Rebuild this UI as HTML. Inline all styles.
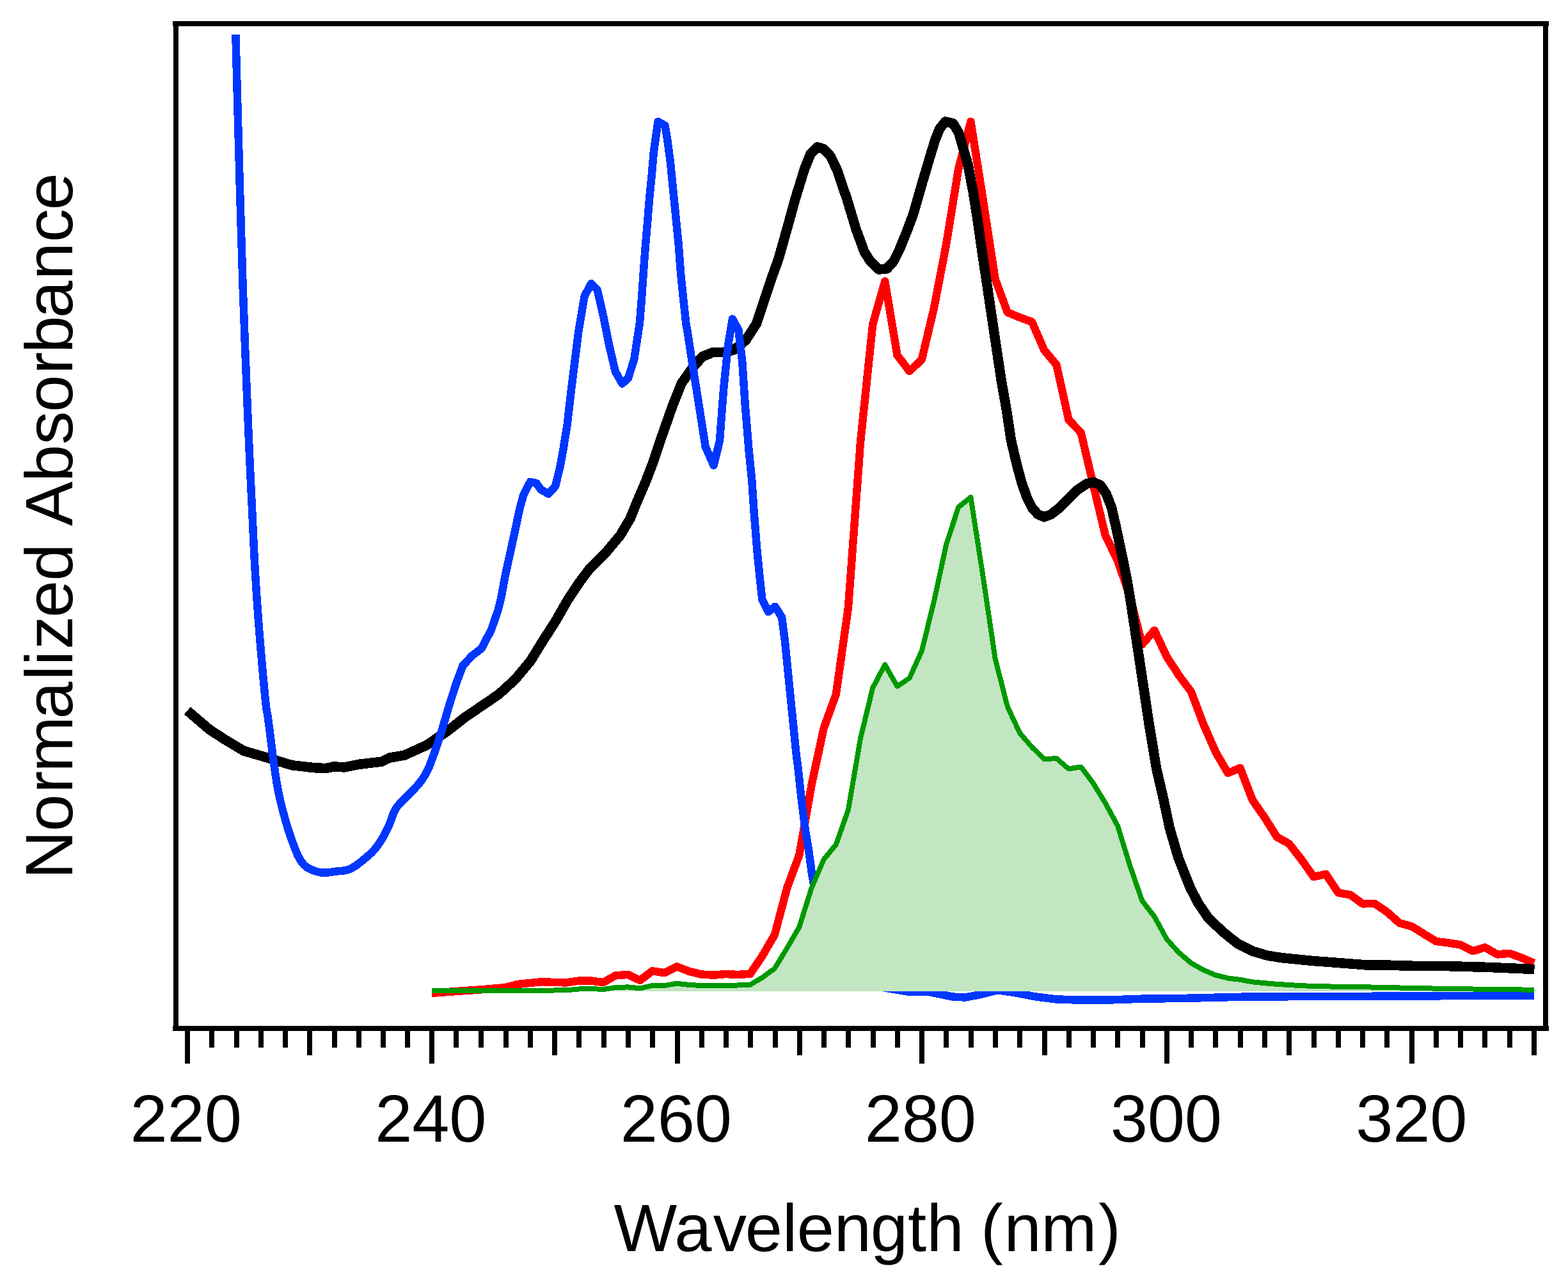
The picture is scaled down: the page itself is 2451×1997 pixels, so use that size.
<!DOCTYPE html>
<html lang="en">
<head>
<meta charset="utf-8">
<title>Normalized Absorbance vs Wavelength</title>
<style>
html,body{margin:0;padding:0;background:#fff}
svg{display:block}
text{font-family:"Liberation Sans",Arial,Helvetica,sans-serif;font-size:104.7px;fill:#000}
.ln{fill:none;stroke-linejoin:round;stroke-linecap:butt}
</style>
</head>
<body>
<svg width="2451" height="1997" viewBox="0 0 2451 1997" shape-rendering="crispEdges">
<rect x="0" y="0" width="2451" height="1997" fill="#ffffff"/>
<g class="ln">
<polyline stroke="#ff0000" stroke-width="12.5" points="675.0,1551.8 694.1,1550.4 713.3,1549.0 732.4,1547.7 751.6,1546.4 770.7,1544.7 789.9,1543.1 809.0,1538.0 828.2,1536.0 847.3,1534.2 866.4,1535.0 885.6,1535.4 904.7,1532.6 923.9,1532.6 943.0,1535.1 962.2,1524.4 981.3,1522.9 1000.5,1531.9 1019.6,1517.3 1038.7,1520.1 1057.9,1510.3 1077.0,1517.8 1096.2,1522.5 1115.3,1523.7 1134.5,1522.0 1153.6,1523.0 1172.8,1521.7 1191.9,1493.3 1211.0,1460.4 1230.2,1387.7 1249.3,1336.1 1268.5,1227.0 1287.6,1138.0 1306.8,1085.0 1325.9,950.0 1345.1,690.0 1364.2,507.0 1383.3,439.5 1402.5,555.0 1421.6,580.0 1440.8,562.0 1459.9,481.5 1479.1,382.0 1498.2,264.0 1517.4,190.0 1536.5,311.0 1555.6,436.0 1574.8,488.0 1593.9,496.0 1613.1,503.0 1632.2,547.0 1651.4,570.0 1670.5,656.0 1689.7,676.0 1708.8,757.0 1727.9,837.0 1747.1,876.0 1766.2,932.0 1785.4,1007.0 1804.5,985.0 1823.7,1026.0 1842.8,1055.3 1862.0,1081.1 1881.1,1131.6 1900.2,1175.0 1919.4,1208.0 1938.5,1200.0 1957.7,1250.0 1976.8,1277.4 1996.0,1307.9 2015.1,1318.5 2034.3,1343.1 2053.4,1370.1 2072.5,1366.0 2091.7,1395.0 2110.8,1398.3 2130.0,1412.3 2149.1,1412.1 2168.3,1425.2 2187.4,1442.3 2206.6,1447.5 2225.7,1459.3 2244.8,1471.0 2264.0,1473.3 2283.1,1476.4 2302.3,1486.2 2321.4,1480.4 2340.6,1491.4 2359.7,1489.8 2378.9,1496.8 2398.0,1505.0"/>
<polyline stroke="#000000" stroke-width="15.5" points="292.9,1110.5 326.9,1139.6 350.4,1154.9 380.9,1173.2 420.8,1184.9 456.0,1195.7 491.2,1199.7 509.9,1200.6 521.7,1197.8 538.1,1199.0 561.6,1194.3 596.8,1190.1 608.5,1184.2 632.0,1180.2 667.1,1164.3 702.3,1140.3 725.8,1121.6 749.3,1105.6 779.8,1084.8 805.6,1061.3 829.0,1033.2 847.8,1002.7 868.9,969.8 887.7,937.0 906.5,908.8 920.6,890.0 946.4,864.2 969.8,836.1 985.1,810.3 995.6,784.5 1009.7,751.6 1021.4,721.1 1028.5,700.0 1034.6,681.6 1051.1,634.6 1065.1,599.4 1081.6,576.0 1098.0,557.2 1114.4,550.6 1133.2,550.2 1147.3,546.6 1166.0,531.4 1182.5,505.6 1194.2,470.4 1205.9,435.2 1216.8,405.0 1230.1,358.1 1243.0,311.2 1257.5,264.2 1267.1,240.3 1277.8,229.8 1287.6,232.8 1298.3,244.3 1307.9,264.2 1324.0,311.2 1338.1,358.1 1351.0,393.3 1361.0,409.0 1373.6,421.0 1386.5,419.8 1397.0,408.0 1405.6,391.0 1417.3,362.0 1427.6,334.6 1441.0,287.7 1455.0,240.8 1462.0,218.0 1468.9,200.9 1477.6,190.1 1489.8,192.9 1498.5,207.2 1506.5,235.0 1512.9,256.6 1521.0,299.3 1527.8,341.9 1533.8,384.5 1540.2,427.2 1546.6,469.8 1551.8,505.0 1558.1,546.9 1565.1,593.9 1573.4,640.8 1580.4,687.7 1588.6,722.9 1596.8,753.4 1605.0,776.9 1613.2,793.3 1622.6,803.9 1632.0,807.8 1642.6,803.9 1656.6,793.3 1670.7,779.2 1684.8,765.1 1698.9,755.8 1709.4,753.4 1720.0,758.1 1729.4,772.2 1737.6,793.3 1744.6,823.8 1750.5,852.0 1756.4,880.1 1761.1,903.0 1768.0,943.9 1782.1,1037.7 1796.2,1131.6 1807.9,1202.0 1818.3,1246.9 1828.3,1293.9 1842.0,1340.8 1860.7,1387.7 1872.9,1411.2 1888.9,1434.6 1911.2,1455.8 1934.6,1474.5 1958.1,1486.3 1981.6,1493.3 2005.0,1496.8 2052.0,1501.5 2098.9,1505.0 2134.1,1507.8 2169.3,1508.1 2200.0,1509.2 2264.0,1509.7 2326.0,1511.4 2385.0,1513.9 2398.5,1514.5"/>
<polyline stroke="#0037ff" stroke-width="12.5" points="368.4,54.0 370.4,130.0 374.9,293.3 379.6,447.0 383.0,540.0 386.4,626.8 389.5,700.0 391.1,734.7 392.5,764.4 394.0,794.0 395.4,825.3 396.9,856.7 398.5,888.0 400.5,919.9 402.7,951.7 404.9,982.0 406.9,1006.4 408.9,1029.7 410.9,1052.0 412.8,1072.2 414.6,1091.7 416.4,1107.0 417.1,1111.6 417.9,1115.2 418.7,1120.0 421.3,1140.0 424.6,1166.3 427.8,1191.0 430.1,1207.4 432.5,1222.7 435.3,1238.0 438.9,1254.0 442.9,1269.9 447.1,1285.0 450.9,1297.4 454.8,1309.1 458.8,1320.0 462.0,1328.4 465.3,1336.2 468.9,1343.0 472.0,1347.6 475.3,1351.5 479.4,1355.0 486.4,1358.8 494.6,1361.9 502.9,1363.7 511.0,1363.7 519.1,1362.5 526.4,1361.4 530.6,1361.1 534.4,1360.9 538.1,1360.4 541.9,1359.6 545.7,1358.5 549.8,1356.7 557.5,1351.8 565.9,1345.3 573.3,1339.1 577.6,1335.4 581.4,1331.9 585.0,1328.0 589.1,1323.0 593.0,1317.5 596.8,1311.6 600.9,1304.3 604.8,1296.5 608.5,1288.6 611.6,1280.5 614.4,1272.2 617.9,1264.7 622.1,1258.9 626.8,1253.8 632.0,1248.3 639.7,1240.5 648.1,1232.2 655.4,1224.1 659.8,1218.2 663.6,1212.4 667.1,1206.0 671.3,1196.9 675.1,1187.0 678.9,1176.7 682.9,1165.3 686.8,1153.5 690.6,1141.5 694.5,1128.3 698.4,1114.8 702.3,1101.6 707.1,1086.7 711.9,1072.0 714.1,1065.3 723.5,1040.2 737.5,1025.0 752.8,1013.2 768.0,983.9 778.6,953.4 783.3,934.6 789.2,901.8 798.5,859.5 805.6,826.7 812.6,793.9 818.5,772.7 828.8,753.0 838.4,755.0 845.5,765.0 857.4,771.8 868.0,760.0 875.5,729.5 880.8,700.0 886.8,662.8 892.7,611.2 898.6,564.2 904.4,517.3 910.3,482.1 913.8,462.2 924.2,443.2 933.7,452.8 943.1,493.9 952.5,540.8 961.9,580.7 972.5,599.4 981.8,591.2 991.2,561.9 999.9,505.0 1003.2,463.7 1005.6,428.5 1009.1,381.6 1012.2,346.4 1015.0,311.2 1018.5,276.0 1022.0,236.0 1028.6,189.9 1039.6,196.2 1043.1,217.3 1047.8,252.5 1051.3,287.7 1056.0,334.6 1060.7,381.6 1064.2,428.5 1067.8,463.7 1072.5,507.0 1074.5,517.3 1081.6,564.2 1091.0,622.9 1102.7,698.0 1115.6,727.3 1125.0,688.6 1130.8,611.2 1137.9,540.8 1144.9,498.5 1154.3,515.0 1160.2,564.2 1164.9,634.6 1170.7,705.0 1175.4,752.0 1178.6,800.0 1183.3,858.7 1188.0,905.6 1191.5,937.3 1200.9,956.0 1211.5,947.8 1222.0,964.2 1226.7,999.4 1231.4,1046.4 1236.1,1093.3 1240.8,1140.2 1244.3,1175.4 1247.8,1203.0 1252.5,1246.9 1258.4,1293.9 1264.2,1329.1 1268.9,1364.2 1288.0,1470.0 1307.0,1510.0 1340.0,1532.0 1378.0,1542.7 1418.9,1549.5 1452.7,1550.0 1489.3,1557.6 1509.0,1558.5 1531.6,1554.2 1559.7,1547.2 1587.9,1551.4 1616.0,1557.0 1649.8,1561.3 1686.4,1562.7 1728.6,1562.7 1785.0,1560.7 1850.0,1559.9 1951.0,1557.5 2185.0,1556.6 2398.0,1555.5"/>
</g>
<polygon fill="#c1e6c1" points="675.0,1549.0 675.0,1548.1 694.1,1548.1 713.3,1548.0 732.4,1548.0 751.6,1547.9 770.7,1547.8 789.9,1547.8 809.0,1547.7 828.2,1547.6 847.3,1547.5 866.4,1547.5 885.6,1547.3 904.7,1545.5 923.9,1545.0 943.0,1546.0 962.2,1543.1 981.3,1542.4 1000.5,1544.3 1019.6,1540.1 1038.7,1540.1 1057.9,1536.8 1077.0,1538.9 1096.2,1540.1 1115.3,1540.0 1134.5,1540.0 1153.6,1539.5 1172.8,1538.6 1191.9,1527.3 1211.0,1513.2 1230.2,1481.6 1249.3,1448.7 1268.5,1387.7 1287.6,1343.1 1306.8,1319.7 1325.9,1265.7 1345.1,1153.4 1364.2,1074.8 1383.3,1038.6 1402.5,1072.5 1421.6,1059.6 1440.8,1017.3 1459.9,940.0 1479.1,851.0 1498.2,792.5 1517.4,777.0 1536.5,900.0 1555.6,1029.0 1574.8,1104.1 1593.9,1145.2 1613.1,1167.5 1632.2,1186.2 1651.4,1185.1 1670.5,1201.5 1689.7,1198.4 1708.8,1223.8 1727.9,1255.0 1747.1,1290.5 1766.2,1352.5 1785.4,1407.7 1804.5,1432.3 1823.7,1467.5 1842.8,1488.6 1862.0,1505.0 1881.1,1515.6 1900.2,1523.8 1919.4,1528.5 1938.5,1530.8 1957.7,1534.4 1976.8,1536.2 1996.0,1537.9 2015.1,1539.0 2034.3,1540.2 2053.4,1541.0 2072.5,1541.4 2091.7,1541.7 2110.8,1542.0 2130.0,1542.3 2149.1,1542.6 2168.3,1543.0 2187.4,1543.5 2206.6,1544.0 2225.7,1544.3 2244.8,1544.6 2264.0,1544.9 2283.1,1545.2 2302.3,1545.5 2321.4,1545.8 2340.6,1546.0 2359.7,1546.3 2378.9,1546.5 2398.0,1546.8 2402.0,1546.8 2402.0,1549.0"/>
<polyline class="ln" stroke="#009900" stroke-width="8" points="675.0,1548.1 694.1,1548.1 713.3,1548.0 732.4,1548.0 751.6,1547.9 770.7,1547.8 789.9,1547.8 809.0,1547.7 828.2,1547.6 847.3,1547.5 866.4,1547.5 885.6,1547.3 904.7,1545.5 923.9,1545.0 943.0,1546.0 962.2,1543.1 981.3,1542.4 1000.5,1544.3 1019.6,1540.1 1038.7,1540.1 1057.9,1536.8 1077.0,1538.9 1096.2,1540.1 1115.3,1540.0 1134.5,1540.0 1153.6,1539.5 1172.8,1538.6 1191.9,1527.3 1211.0,1513.2 1230.2,1481.6 1249.3,1448.7 1268.5,1387.7 1287.6,1343.1 1306.8,1319.7 1325.9,1265.7 1345.1,1153.4 1364.2,1074.8 1383.3,1038.6 1402.5,1072.5 1421.6,1059.6 1440.8,1017.3 1459.9,940.0 1479.1,851.0 1498.2,792.5 1517.4,777.0 1536.5,900.0 1555.6,1029.0 1574.8,1104.1 1593.9,1145.2 1613.1,1167.5 1632.2,1186.2 1651.4,1185.1 1670.5,1201.5 1689.7,1198.4 1708.8,1223.8 1727.9,1255.0 1747.1,1290.5 1766.2,1352.5 1785.4,1407.7 1804.5,1432.3 1823.7,1467.5 1842.8,1488.6 1862.0,1505.0 1881.1,1515.6 1900.2,1523.8 1919.4,1528.5 1938.5,1530.8 1957.7,1534.4 1976.8,1536.2 1996.0,1537.9 2015.1,1539.0 2034.3,1540.2 2053.4,1541.0 2072.5,1541.4 2091.7,1541.7 2110.8,1542.0 2130.0,1542.3 2149.1,1542.6 2168.3,1543.0 2187.4,1543.5 2206.6,1544.0 2225.7,1544.3 2244.8,1544.6 2264.0,1544.9 2283.1,1545.2 2302.3,1545.5 2321.4,1545.8 2340.6,1546.0 2359.7,1546.3 2378.9,1546.5 2398.0,1546.8"/>
<g fill="#000">
<rect x="270" y="33" width="2151" height="8"/>
<rect x="270" y="1603" width="2151" height="8"/>
<rect x="271" y="33" width="8" height="1578"/>
<rect x="2412" y="33" width="8" height="1578"/>
<rect x="289" y="1607" width="8" height="55"/>
<rect x="327" y="1607" width="8" height="30"/>
<rect x="366" y="1607" width="8" height="30"/>
<rect x="404" y="1607" width="8" height="30"/>
<rect x="442" y="1607" width="8" height="30"/>
<rect x="480" y="1607" width="8" height="42"/>
<rect x="519" y="1607" width="8" height="30"/>
<rect x="557" y="1607" width="8" height="30"/>
<rect x="595" y="1607" width="8" height="30"/>
<rect x="633" y="1607" width="8" height="30"/>
<rect x="671" y="1607" width="8" height="55"/>
<rect x="709" y="1607" width="8" height="30"/>
<rect x="748" y="1607" width="8" height="30"/>
<rect x="787" y="1607" width="8" height="30"/>
<rect x="825" y="1607" width="8" height="30"/>
<rect x="863" y="1607" width="8" height="42"/>
<rect x="901" y="1607" width="8" height="30"/>
<rect x="940" y="1607" width="8" height="30"/>
<rect x="978" y="1607" width="8" height="30"/>
<rect x="1016" y="1607" width="8" height="30"/>
<rect x="1055" y="1607" width="8" height="55"/>
<rect x="1093" y="1607" width="8" height="30"/>
<rect x="1131" y="1607" width="8" height="30"/>
<rect x="1169" y="1607" width="8" height="30"/>
<rect x="1208" y="1607" width="8" height="30"/>
<rect x="1246" y="1607" width="8" height="42"/>
<rect x="1284" y="1607" width="8" height="30"/>
<rect x="1322" y="1607" width="8" height="30"/>
<rect x="1361" y="1607" width="8" height="30"/>
<rect x="1399" y="1607" width="8" height="30"/>
<rect x="1437" y="1607" width="8" height="55"/>
<rect x="1475" y="1607" width="8" height="30"/>
<rect x="1514" y="1607" width="8" height="30"/>
<rect x="1552" y="1607" width="8" height="30"/>
<rect x="1590" y="1607" width="8" height="30"/>
<rect x="1629" y="1607" width="8" height="42"/>
<rect x="1667" y="1607" width="8" height="30"/>
<rect x="1705" y="1607" width="8" height="30"/>
<rect x="1743" y="1607" width="8" height="30"/>
<rect x="1782" y="1607" width="8" height="30"/>
<rect x="1820" y="1607" width="8" height="55"/>
<rect x="1858" y="1607" width="8" height="30"/>
<rect x="1896" y="1607" width="8" height="30"/>
<rect x="1935" y="1607" width="8" height="30"/>
<rect x="1973" y="1607" width="8" height="30"/>
<rect x="2011" y="1607" width="8" height="42"/>
<rect x="2050" y="1607" width="8" height="30"/>
<rect x="2088" y="1607" width="8" height="30"/>
<rect x="2126" y="1607" width="8" height="30"/>
<rect x="2164" y="1607" width="8" height="30"/>
<rect x="2203" y="1607" width="8" height="55"/>
<rect x="2241" y="1607" width="8" height="30"/>
<rect x="2279" y="1607" width="8" height="30"/>
<rect x="2317" y="1607" width="8" height="30"/>
<rect x="2356" y="1607" width="8" height="30"/>
<rect x="2394" y="1607" width="8" height="42"/>
</g>
<g text-rendering="geometricPrecision">
<text x="203.6" y="1784.2" font-size="105.6" letter-spacing="-0.2">220</text>
<text x="586.3" y="1784.2" font-size="105.6" letter-spacing="-0.2">240</text>
<text x="969.7" y="1784.2" font-size="105.6" letter-spacing="-0.2">260</text>
<text x="1351.8" y="1784.2" font-size="105.6" letter-spacing="-0.2">280</text>
<text x="1735.8" y="1784.2" font-size="105.6" letter-spacing="-0.2">300</text>
<text x="2119.2" y="1784.2" font-size="105.6" letter-spacing="-0.2">320</text>
<text x="959.4 1054.2 1114.8 1164.7 1223.0 1245.7 1303.7 1360.8 1418.9 1448.4 1506.2 1532.9 1569.4 1627.3 1716.9" y="1954.8" font-size="104" xml:space="preserve">Wavelength (nm)</text>
<text transform="translate(113.1 0) rotate(-90)" x="-1373.4 -1299.2 -1239.6 -1206.6 -1123.6 -1063.0 -1039.9 -1014.8 -965.1 -907.7 -849.8 -822.1 -753.0 -694.8 -644.1 -584.8 -551.7 -496.9 -437.3 -378.5 -328.2" y="0" font-size="104" xml:space="preserve">Normalized Absorbance</text>
</g>
</svg>
</body>
</html>
